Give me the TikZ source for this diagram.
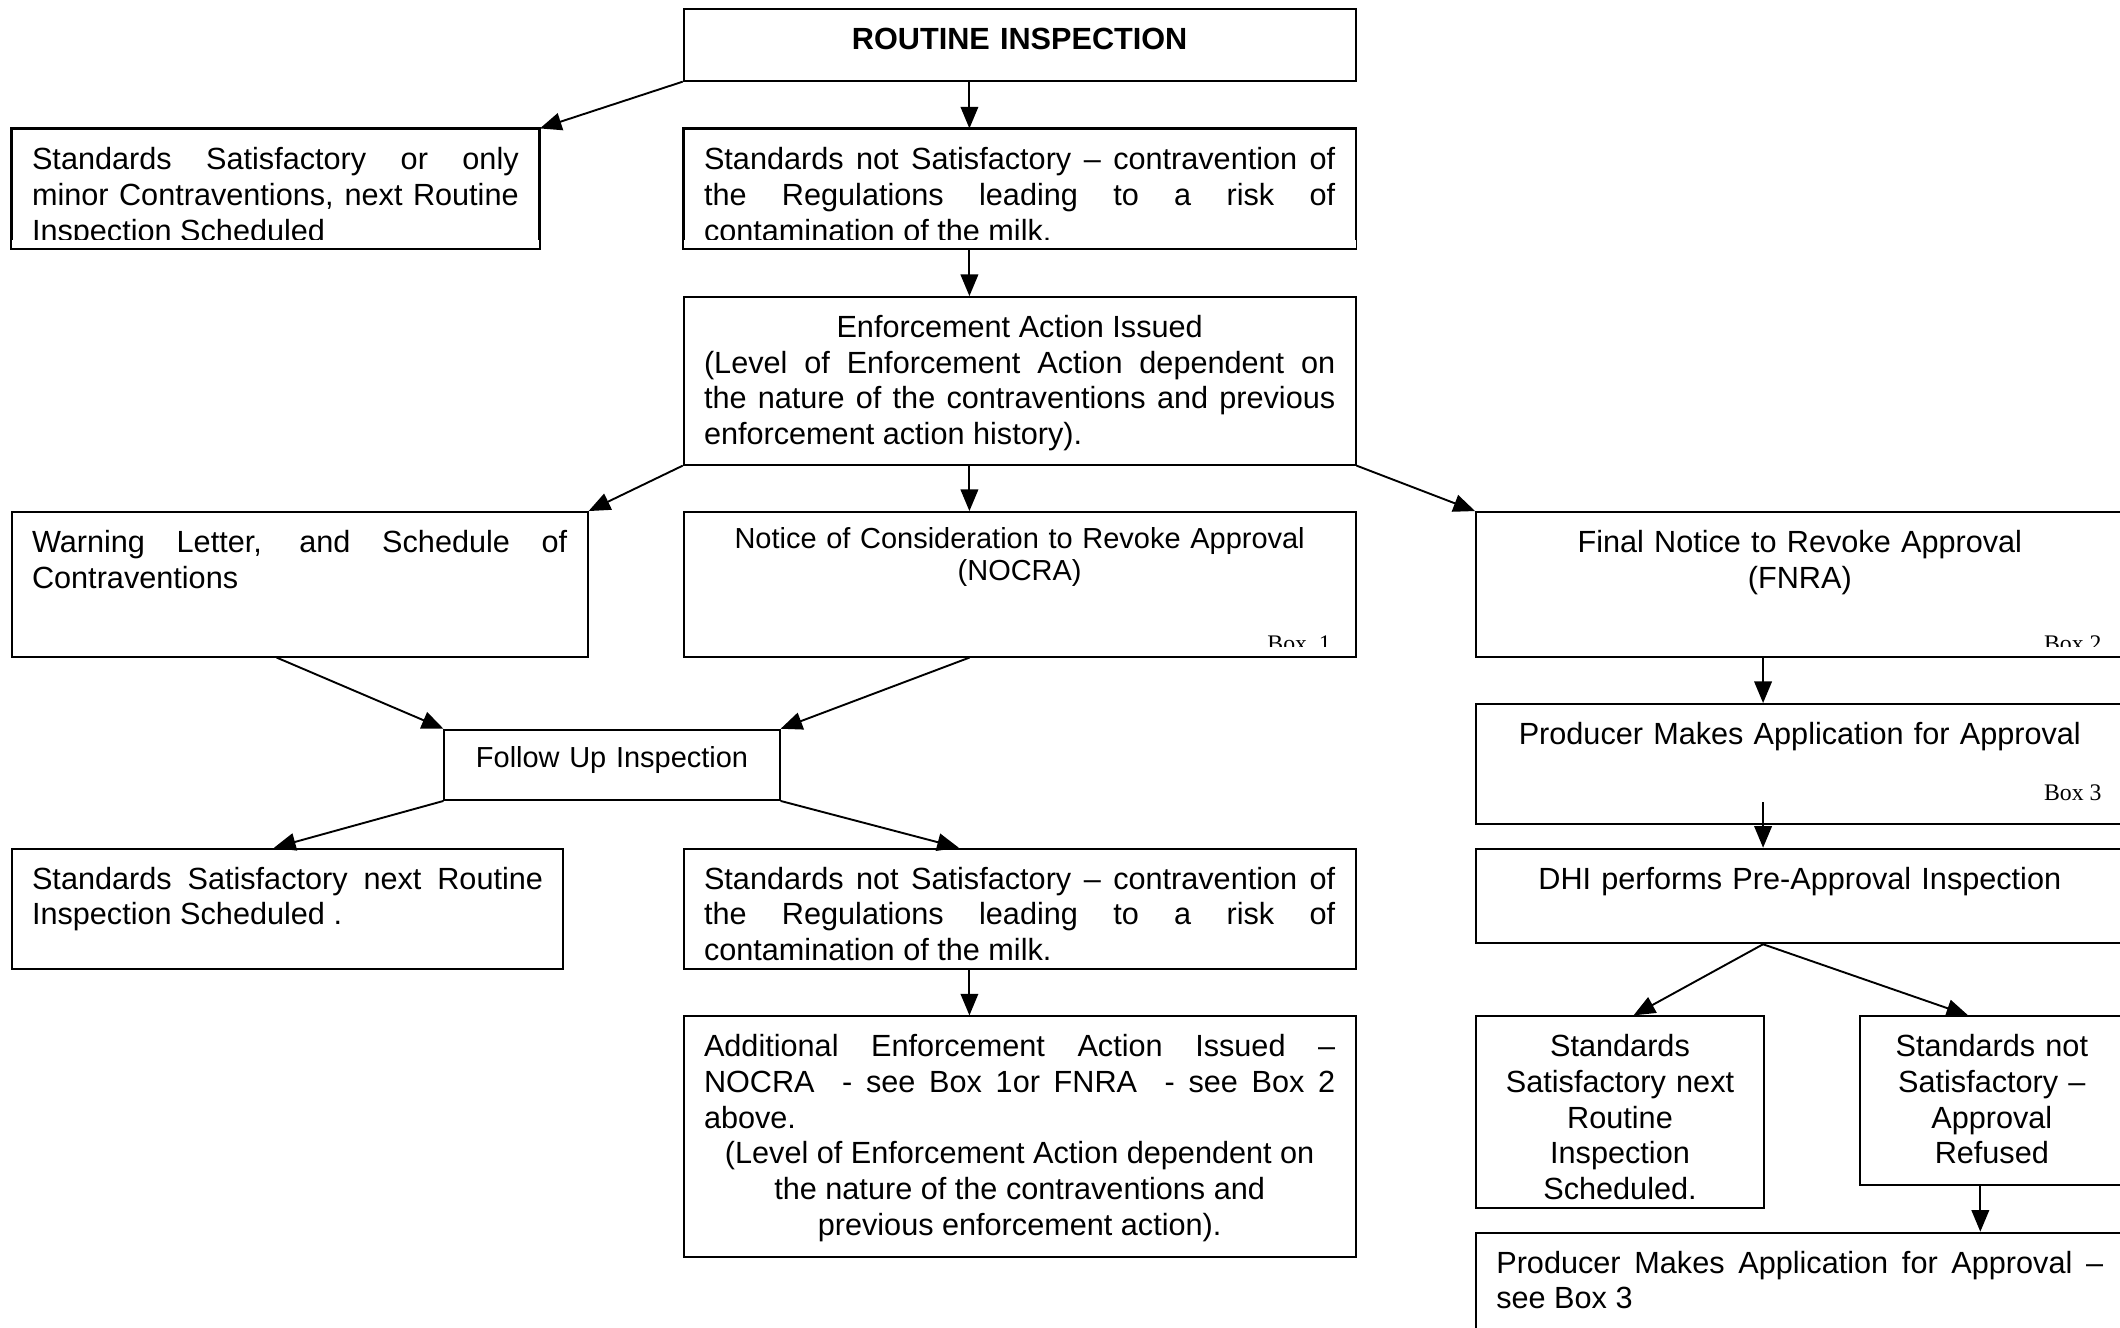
\documentclass[tikz,border=0pt]{standalone}
\usepackage{fontspec}
\setmainfont{Liberation Sans}
\newfontfamily\boxnofont{Liberation Serif}
\usepackage{tikz}
\usetikzlibrary{arrows.meta}
\usetikzlibrary{calc}
\hyphenpenalty=10000
\exhyphenpenalty=10000
\tolerance=10000

\begin{document}
\begin{tikzpicture}[x=0.02cm, y=-0.02cm, line width=0.8pt,
        box_style/.style={draw, rectangle, anchor=north west, inner xsep=0.3cm, inner ysep=0pt,
            text height=0.6cm, align=justify, font=\fontsize{12.9}{15}\selectfont},
        centre_box_style/.style={box_style, align=center},
        small_box_style/.style={box_style, align=center, text height=0.54cm,
            font=\fontsize{12.2}{13.4}\selectfont},
        boxno_style/.style={anchor=base east, inner sep=0pt, font=\boxnofont\fontsize{10}{12}\selectfont},
        edge_style/.style={draw=black, line width=0.8pt, -{Triangle[length=0.32cm, width=0.26cm]}}]

        \useasboundingbox (0,0) rectangle (1568,982);
        \coordinate (spine) at (717,0);
        \coordinate (rspine) at (1304,0);

        \node [centre_box_style, text width=9.34cm, text depth=0.46cm] (rt) at (505,6) {\textbf{ROUTINE INSPECTION}};

        \begin{scope}
            \clip (0,0) rectangle (1568,177);
            \node [box_style, text width=7.2cm, text depth=1.16cm] (sat1) at (8,95) {Standards Satisfactory or only\linebreak minor Contraventions, next Routine\linebreak Inspection Scheduled};
            \node [box_style, text width=9.34cm, text depth=1.16cm] (ns1) at (505,95) {Standards not Satisfactory – contravention of\linebreak the Regulations leading to a risk of\linebreak contamination of the milk.};
        \end{scope}
        \draw (sat1.north west) rectangle (sat1.south east);
        \draw (ns1.north west) rectangle (ns1.south east);

        \node [box_style, text width=9.34cm, text depth=1.88cm] (enf) at (505,219) {{\centering Enforcement Action Issued\par}(Level of Enforcement Action dependent on\linebreak the nature of the contraventions and previous\linebreak enforcement action history).};

        \node [box_style, text width=7.92cm, text depth=1.54cm] (warn) at (8,378) {Warning Letter, and Schedule of\linebreak Contraventions};
        \node [small_box_style, text width=9.34cm, text depth=1.6cm] (nocra) at (505,378) {Notice of Consideration to Revoke Approval\\(NOCRA)};
        \node [centre_box_style, text width=8.98cm, text depth=1.54cm] (fnra) at (1091,378) {Final Notice to Revoke Approval\\(FNRA)};

        \begin{scope}
            \clip (0,0) rectangle (1568,478);
            \node [boxno_style] (box1) at (985,482) {Box~~1};
            \node [boxno_style] (box2) at (1555,482) {Box 2};
        \end{scope}

        \node [small_box_style, text height=0.56cm, text width=4.36cm, text depth=0.48cm] (fu) at (328,539) {Follow Up Inspection};
        \node [centre_box_style, text width=8.98cm, text depth=1.18cm] (app) at (1091,520) {Producer Makes Application for Approval};
        \node [boxno_style] (box3) at (1555,592) {Box 3};

        \node [box_style, text width=7.56cm, text depth=1.18cm] (sat2) at (8,627) {Standards Satisfactory next Routine\linebreak Inspection Scheduled .};
        \node [box_style, text width=9.34cm, text depth=1.18cm] (ns2) at (505,627) {Standards not Satisfactory – contravention of\linebreak the Regulations leading to a risk of\linebreak contamination of the milk.};
        \node [centre_box_style, text width=8.98cm, text depth=0.8cm] (dhi) at (1091,627) {DHI performs Pre-Approval Inspection};

        \node [box_style, text width=9.34cm, text depth=2.96cm] (addl) at (505,751) {Additional Enforcement Action Issued –\linebreak NOCRA\ \ - see Box 1or FNRA\ \ - see Box 2\linebreak above.\par{\centering (Level of Enforcement Action dependent on\\the nature of the contraventions and\\previous enforcement action).\par}};
        \node [centre_box_style, text width=3.66cm, text depth=2.24cm] (sat3) at (1091,751) {Standards\\Satisfactory next\\Routine\\Inspection\\Scheduled.};
        \node [centre_box_style, text width=3.3cm, text depth=1.9cm] (ns3) at (1375,751) {Standards not\\Satisfactory –\\Approval\\Refused};
        \node [box_style, text width=8.98cm, text depth=1.18cm] (app2) at (1091,911) {Producer Makes Application for Approval –\linebreak see Box 3};

        \draw [edge_style] (rt.south west) -- (sat1.north east);
        \draw [edge_style] (rt.south -| spine) -- (ns1.north -| spine);
        \draw [edge_style] (ns1.south -| spine) -- (enf.north -| spine);
        \draw [edge_style] (enf.south west) -- (warn.north east);
        \draw [edge_style] (enf.south -| spine) -- (nocra.north -| spine);
        \draw [edge_style] (enf.south east) -- (fnra.north west);
        \draw [edge_style] ([xshift=-0.34cm]warn.south) -- (fu.north west);
        \draw [edge_style] (nocra.south -| spine) -- (fu.north east);
        \draw [edge_style] (fu.south west) -- ([xshift=-0.2cm]sat2.north);
        \draw [edge_style] (fu.south east) -- ([xshift=-0.9cm]ns2.north);
        \draw [edge_style] (ns2.south -| spine) -- (addl.north -| spine);
        \draw [edge_style] (fnra.south -| rspine) -- (app.north -| rspine);
        \draw [edge_style] ([yshift=0.34cm]app.south -| rspine) -- (dhi.north -| rspine);
        \draw [edge_style] (dhi.south -| rspine) -- ([xshift=0.2cm]sat3.north);
        \draw [edge_style] (dhi.south -| rspine) -- ([xshift=-0.35cm]ns3.north);
        \draw [edge_style] ([xshift=-0.17cm]ns3.south) -- ([xshift=-0.17cm]ns3.south |- app2.north);

        \end{tikzpicture}
\end{document}
